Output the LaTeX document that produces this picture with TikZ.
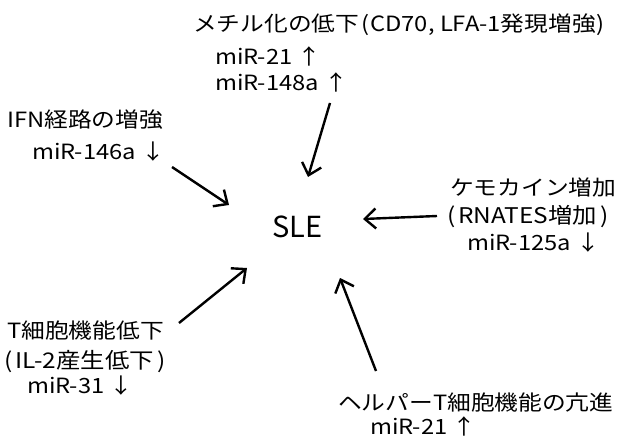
\documentclass[tikz,border=0pt]{standalone}
\usepackage{fontspec}
\setmainfont[FakeStretch=1.13]{Noto Sans CJK JP}
\newfontfamily\slefont{Noto Sans CJK JP}
\usetikzlibrary{arrows.meta}
\tikzset{
  lbl/.style={anchor=base west, inner sep=0pt, font=\fontsize{21}{24}\selectfont},
  lblw/.style={lbl, font=\fontsize{21.6}{24}\selectfont},
  big/.style={anchor=base west, inner sep=0pt, font=\slefont\fontsize{29}{34}\selectfont},
  arr/.style={line width=2.4pt, -{Straight Barb[length=11pt,width=20pt,line width=2.4pt]}}
}
\begin{document}
\begin{tikzpicture}[x=1pt,y=-1pt]
\useasboundingbox (0,0) rectangle (617,446);
% top
\node[lbl] (t1) at (193,32) {メチル化の低下\hspace{2pt}(\hspace{1pt}CD70, LFA-1発現増強\hspace{1pt})};
\node[lbl] (t2) at (215,65) {miR-21 ↑};
\node[lbl] (t3) at (215,91) {miR-148a ↑};
% left
\node[lbl] (l1) at (7,128) {IFN経路の増強};
\node[lbl] (l2) at (32,160) {miR-146a ↓};
% right
\node[lbl] (r1) at (450,195) {ケモカイン増加};
\node[lblw] (r2) at (447,223) {(\hspace{3pt}RNATES増加\hspace{3pt})};
\node[lbl] (r3) at (467,250) {miR-125a ↓};
% lower left
\node[lbl] (b1) at (7,338) {T細胞機能低下};
\node[lblw] (b2) at (4,368) {(\hspace{3pt}IL-2産生低下\hspace{3pt})};
\node[lbl] (b3) at (27,393) {miR-31 ↓};
% bottom
\node[lbl] (c1) at (338,410) {ヘルパーT細胞機能の亢進};
\node[lbl] (c2) at (370,434) {miR-21 ↑};
% center
\node[big] (sle) at (272,237) {SLE};
% arrows
\coordinate (a1s) at (330,103); \coordinate (a1e) at (308,177);
\coordinate (a2s) at (172,167); \coordinate (a2e) at (229,205);
\coordinate (a3s) at (437,216); \coordinate (a3e) at (363,219);
\coordinate (a4s) at (179,323); \coordinate (a4e) at (247,268);
\coordinate (a5s) at (376,371); \coordinate (a5e) at (340,278);
\draw[arr] (a1s) -- (a1e);
\draw[arr] (a2s) -- (a2e);
\draw[arr] (a3s) -- (a3e);
\draw[arr] (a4s) -- (a4e);
\draw[arr] (a5s) -- (a5e);
\end{tikzpicture}
\end{document}
